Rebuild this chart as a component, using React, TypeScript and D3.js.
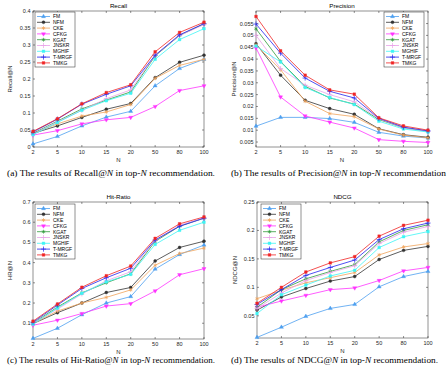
import React from 'react';
import * as d3 from 'd3';

// top-N cut-offs (x axis categories)
const nValues = ['2', '5', '10', '15', '20', '50', '80', '100'];

const methods = ['FM', 'NFM', 'CKE', 'CFKG', 'KGAT', 'JNSKR', 'MGHIF', 'T-MRGF', 'TMKG'];
const methodColors = ['#4d9ff0', '#333333', '#f0a35a', '#ff33ff', '#2e9a3a', '#e8a2e8', '#3cf5f5', '#2323ee', '#f02525'];
const methodMarkers = ['triangle', 'circle', 'asterisk', 'triangleDown', 'asterisk', 'plus', 'square', 'plus', 'square'];

// one row per method, same order as `methods`
const recallValues = [
  [0.009, 0.031, 0.062, 0.088, 0.105, 0.18, 0.231, 0.258],
  [0.04, 0.062, 0.087, 0.111, 0.128, 0.204, 0.249, 0.27],
  [0.04, 0.068, 0.091, 0.103, 0.125, 0.202, 0.24, 0.258],
  [0.035, 0.048, 0.068, 0.08, 0.087, 0.119, 0.166, 0.18],
  [0.04, 0.076, 0.112, 0.138, 0.162, 0.268, 0.328, 0.362],
  [0.038, 0.074, 0.108, 0.142, 0.168, 0.27, 0.328, 0.36],
  [0.036, 0.072, 0.108, 0.136, 0.158, 0.258, 0.316, 0.348],
  [0.044, 0.082, 0.126, 0.155, 0.18, 0.27, 0.33, 0.363],
  [0.046, 0.083, 0.127, 0.16, 0.183, 0.28, 0.337, 0.367],
];

const precisionValues = [
  [0.0117, 0.0154, 0.0154, 0.0149, 0.0133, 0.0091, 0.0075, 0.0067],
  [0.0465, 0.0332, 0.0226, 0.0191, 0.0167, 0.0106, 0.0081, 0.007],
  [0.046, 0.0355, 0.0222, 0.017, 0.0157, 0.0105, 0.0079, 0.0068],
  [0.0447, 0.024, 0.016, 0.0134, 0.0109, 0.006, 0.0053, 0.0048],
  [0.0528, 0.039, 0.0285, 0.0236, 0.021, 0.0145, 0.011, 0.0095],
  [0.05, 0.036, 0.029, 0.025, 0.022, 0.0148, 0.011, 0.0095],
  [0.0455, 0.0388, 0.028, 0.0238, 0.0208, 0.0138, 0.0105, 0.0092],
  [0.0548, 0.0425, 0.032, 0.0264, 0.0236, 0.015, 0.0113, 0.0097],
  [0.058, 0.0435, 0.0332, 0.027, 0.0252, 0.0152, 0.0118, 0.01],
];

const hitRatioValues = [
  [0.025, 0.075, 0.142, 0.2, 0.232, 0.368, 0.44, 0.487],
  [0.098, 0.152, 0.2, 0.252, 0.277, 0.408, 0.475, 0.506],
  [0.098, 0.16, 0.2, 0.228, 0.265, 0.387, 0.445, 0.472],
  [0.09, 0.115, 0.148, 0.185, 0.197, 0.26, 0.34, 0.37],
  [0.1, 0.18, 0.25, 0.3, 0.345, 0.505, 0.58, 0.62],
  [0.1, 0.17, 0.245, 0.31, 0.355, 0.51, 0.585, 0.62],
  [0.095, 0.175, 0.248, 0.305, 0.342, 0.49, 0.56, 0.6],
  [0.105, 0.19, 0.272, 0.325, 0.372, 0.512, 0.58, 0.62],
  [0.11, 0.195, 0.278, 0.335, 0.383, 0.52, 0.592, 0.626],
];

const ndcgValues = [
  [0.012, 0.03, 0.049, 0.063, 0.07, 0.101, 0.119, 0.128],
  [0.06, 0.083, 0.098, 0.111, 0.119, 0.149, 0.165, 0.172],
  [0.08, 0.095, 0.108, 0.117, 0.126, 0.157, 0.171, 0.177],
  [0.065, 0.076, 0.086, 0.096, 0.099, 0.112, 0.129, 0.135],
  [0.065, 0.096, 0.115, 0.128, 0.14, 0.18, 0.2, 0.21],
  [0.063, 0.09, 0.112, 0.126, 0.138, 0.177, 0.197, 0.207],
  [0.054, 0.087, 0.104, 0.12, 0.13, 0.17, 0.189, 0.198],
  [0.07, 0.096, 0.121, 0.135, 0.148, 0.184, 0.203, 0.213],
  [0.072, 0.1, 0.127, 0.143, 0.154, 0.19, 0.209, 0.218],
];

const recallTicks = [0, 0.05, 0.1, 0.15, 0.2, 0.25, 0.3, 0.35, 0.4];
const precisionTicks = [0.005, 0.01, 0.015, 0.02, 0.025, 0.03, 0.035, 0.04, 0.045, 0.05, 0.055];
const hitRatioTicks = [0.1, 0.2, 0.3, 0.4, 0.5, 0.6, 0.7];
const ndcgTicks = [0.05, 0.1, 0.15, 0.2, 0.25];

const axisColor = '#262626';
const sansFont = '"Liberation Sans", Arial, sans-serif';
const serifFont = '"Liberation Serif", "Times New Roman", serif';

const symbolFor = (name: string) => {
  switch (name) {
    case 'triangle':
    case 'triangleDown':
      return d3.symbolTriangle;
    case 'circle':
      return d3.symbolCircle;
    case 'square':
      return d3.symbolSquare;
    case 'asterisk':
      return d3.symbolAsterisk;
    default:
      return d3.symbolPlus;
  }
};
const isStrokeMarker = (name: string) => name === 'asterisk' || name === 'plus';

const Marker: React.FC<{ x: number; y: number; kind: string; color: string }> = ({ x, y, kind, color }) => {
  const stroke = isStrokeMarker(kind);
  const d = d3.symbol().type(symbolFor(kind)).size(stroke ? 10 : 7)()!;
  const rot = kind === 'triangleDown' ? ' rotate(180)' : '';
  return (
    <path
      d={d}
      transform={`translate(${x},${y})${rot}`}
      fill={stroke ? 'none' : color}
      stroke={color}
      strokeWidth={stroke ? 0.7 : 0.4}
    />
  );
};

interface PanelProps {
  left: number;
  right: number;
  top: number;
  bottom: number;
  title: string;
  ylabel: string;
  yDomain: [number, number];
  yTicks: number[];
  values: number[][];
  legendX: number;
  legendY: number;
  ylabelX: number;
  caption: [string, string];
  captionX: number;
  captionWidth: number;
  captionY: number;
}

const Panel: React.FC<PanelProps> = (p) => {
  const x = d3.scalePoint<string>().domain(nValues).range([p.left, p.right]);
  const y = d3.scaleLinear().domain(p.yDomain).range([p.bottom, p.top]);
  const line = d3.line<number>().x((_, i) => x(nValues[i])!).y((d) => y(d));
  const fmt = d3.format('~g');
  const tl = 2;
  const midX = (p.left + p.right) / 2;

  return (
    <g>
      {/* box + ticks */}
      <rect x={p.left} y={p.top} width={p.right - p.left} height={p.bottom - p.top} fill="white" stroke={axisColor} strokeWidth={0.5} />
      {nValues.map((n) => (
        <g key={n}>
          <line x1={x(n)} x2={x(n)} y1={p.bottom} y2={p.bottom - tl} stroke={axisColor} strokeWidth={0.5} />
          <line x1={x(n)} x2={x(n)} y1={p.top} y2={p.top + tl} stroke={axisColor} strokeWidth={0.5} />
          <text x={x(n)} y={p.bottom + 7} fontSize={5.5} textAnchor="middle" fill={axisColor} fontFamily={sansFont}>{n}</text>
        </g>
      ))}
      {p.yTicks.map((t) => (
        <g key={t}>
          <line x1={p.left} x2={p.left + tl} y1={y(t)} y2={y(t)} stroke={axisColor} strokeWidth={0.5} />
          <line x1={p.right} x2={p.right - tl} y1={y(t)} y2={y(t)} stroke={axisColor} strokeWidth={0.5} />
          <text x={p.left - 2.5} y={y(t) + 2} fontSize={5.5} textAnchor="end" fill={axisColor} fontFamily={sansFont}>{fmt(t)}</text>
        </g>
      ))}

      {/* series */}
      {p.values.map((row, i) => (
        <g key={methods[i]}>
          <path d={line(row)!} fill="none" stroke={methodColors[i]} strokeWidth={0.8} />
          {row.map((v, j) => (
            <Marker key={j} x={x(nValues[j])!} y={y(v)} kind={methodMarkers[i]} color={methodColors[i]} />
          ))}
        </g>
      ))}

      {/* labels */}
      <text x={midX} y={p.top - 3} fontSize={6.2} textAnchor="middle" fill="#000" fontFamily={sansFont}>{p.title}</text>
      <text x={midX} y={p.bottom + 15} fontSize={6} textAnchor="middle" fill={axisColor} fontFamily={sansFont}>N</text>
      <text transform={`translate(${p.ylabelX},${(p.top + p.bottom) / 2}) rotate(-90)`} fontSize={6} textAnchor="middle" fill={axisColor} fontFamily={sansFont}>{p.ylabel}</text>

      {/* legend */}
      <g transform={`translate(${p.legendX},${p.legendY})`}>
        <rect x={0} y={0} width={40} height={55} fill="white" stroke={axisColor} strokeWidth={0.5} />
        {methods.map((m, i) => (
          <g key={m} transform={`translate(0,${4.5 + i * 5.8})`}>
            <line x1={2} x2={15} y1={0} y2={0} stroke={methodColors[i]} strokeWidth={0.8} />
            <Marker x={8.5} y={0} kind={methodMarkers[i]} color={methodColors[i]} />
            <text x={18} y={1.8} fontSize={5} fill="#000" fontFamily={sansFont}>{m}</text>
          </g>
        ))}
      </g>

      {/* caption */}
      <text x={p.captionX} y={p.captionY} fontSize={8.7} fill="#000" fontFamily={serifFont} textLength={p.captionWidth} lengthAdjust="spacingAndGlyphs">
        {p.caption[0]}
        <tspan fontStyle="italic">N</tspan>
        {' in top-'}
        <tspan fontStyle="italic">N</tspan>
        {p.caption[1]}
      </text>
    </g>
  );
};

export default function App() {
  return (
    <svg width={448} height={374} style={{ position: 'absolute', left: 0, top: 0, background: 'white' }}>
      <Panel left={33} right={204} top={11} bottom={147} title="Recall" ylabel="Recall@N" yDomain={[0, 0.4]} yTicks={recallTicks}
        values={recallValues} legendX={35} legendY={12} ylabelX={12} caption={['(a) The results of Recall@', ' recommendation.']}
        captionX={7} captionWidth={208} captionY={176} />
      <Panel left={256} right={428} top={11} bottom={147} title="Precision" ylabel="Precision@N" yDomain={[0.0029, 0.0603]} yTicks={precisionTicks}
        values={precisionValues} legendX={384} legendY={12} ylabelX={236} caption={['(b) The results of Precision@', ' recommendation']}
        captionX={231} captionWidth={215} captionY={176} />
      <Panel left={33} right={204} top={202} bottom={339} title="Hit-Ratio" ylabel="HR@N" yDomain={[0.022, 0.7]} yTicks={hitRatioTicks}
        values={hitRatioValues} legendX={35} legendY={204} ylabelX={12} caption={['(c) The results of Hit-Ratio@', ' recommendation.']}
        captionX={7} captionWidth={208} captionY={363} />
      <Panel left={257} right={428} top={202} bottom={338} title="NDCG" ylabel="NDCG@N" yDomain={[0.011, 0.25]} yTicks={ndcgTicks}
        values={ndcgValues} legendX={261} legendY={204} ylabelX={237} caption={['(d) The results of NDCG@', ' recommendation.']}
        captionX={231} captionWidth={207} captionY={363} />
    </svg>
  );
}
